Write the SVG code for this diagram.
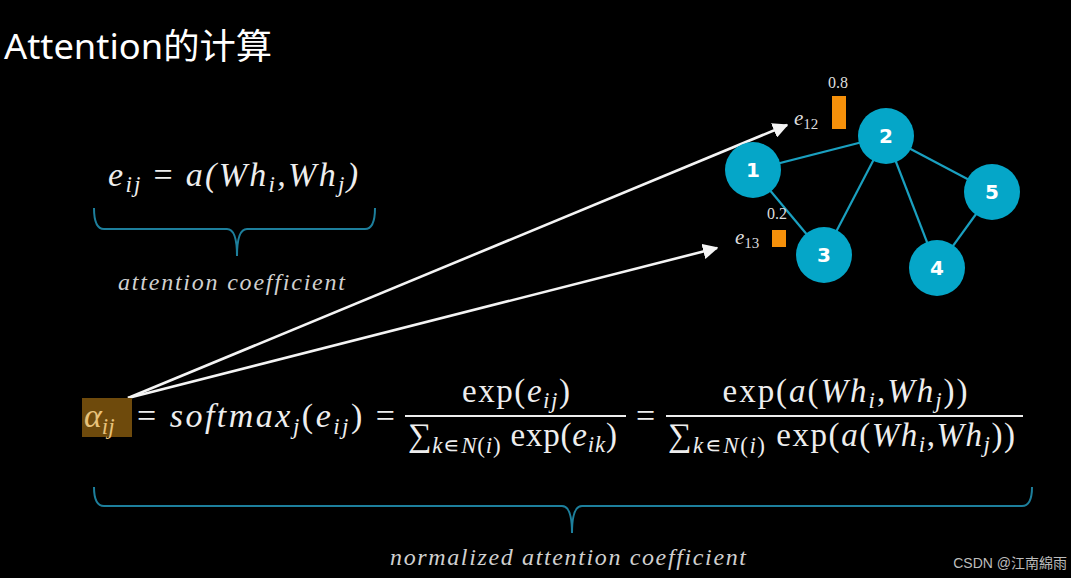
<svg xmlns="http://www.w3.org/2000/svg" width="1071" height="578" viewBox="0 0 1071 578">
<style>
.math{font-family:"Liberation Serif","DejaVu Serif",serif;fill:#eeeeee}
.it{font-style:italic}
.lbl{font-family:"Liberation Serif","DejaVu Serif",serif;font-style:italic;fill:#d0d0d0;font-size:24px}
.brace{fill:none;stroke:#1d7f9c;stroke-width:2}
.edge{stroke:#1aa0c0;stroke-width:2.2}
.node circle{fill:#05a6c8}
.node text{font-family:"DejaVu Sans","Liberation Sans",sans-serif;font-weight:bold;font-size:20px;fill:#ffffff;text-anchor:middle}
.arrow{stroke:#f4f4f4;stroke-width:2.6;fill:none}
.bar{fill:#f5900a}
.small{font-family:"Liberation Serif","DejaVu Serif",serif;fill:#dddddd}
</style>
<defs>
<marker id="ah" viewBox="0 0 10 10" refX="9" refY="5" markerWidth="6" markerHeight="6" orient="auto" markerUnits="strokeWidth">
<path d="M0,0 L10,5 L0,10 z" fill="#f4f4f4"/>
</marker>
</defs>
<rect x="0" y="0" width="1071" height="578" fill="#000000"/>

<text x="4" y="59" font-family="'Noto Sans','Noto Sans CJK SC',sans-serif" font-size="35" fill="#ffffff" textLength="268" lengthAdjust="spacingAndGlyphs">Attention的计算</text>

<g id="eq-e">
<text class="math it" x="108" y="186" font-size="34" textLength="250" lengthAdjust="spacing">e<tspan font-size="23" dy="6">ij</tspan><tspan dy="-6" font-style="normal"> = </tspan>a(Wh<tspan font-size="23" dy="6">i</tspan><tspan dy="-6">,</tspan>Wh<tspan font-size="23" dy="6">j</tspan><tspan dy="-6">)</tspan></text>
</g>

<g id="brace1">
<path class="brace" d="M94,208 Q94,229 104,229 L227,229 Q237,229 237,256 Q237,229 247,229 L365,229 Q375,229 375,208"/>
<text class="lbl" x="118" y="290" textLength="227" lengthAdjust="spacing">attention coefficient</text>
</g>

<g id="connectors">
<line class="edge" x1="753" y1="170" x2="886" y2="136"/>
<line class="edge" x1="753" y1="170" x2="824" y2="255"/>
<line class="edge" x1="886" y1="136" x2="824" y2="255"/>
<line class="edge" x1="886" y1="136" x2="937" y2="268"/>
<line class="edge" x1="886" y1="136" x2="992" y2="192"/>
<line class="edge" x1="992" y1="192" x2="937" y2="268"/>
<line class="arrow" x1="128" y1="398" x2="787" y2="125" marker-end="url(#ah)"/>
<line class="arrow" x1="128" y1="398" x2="717" y2="248" marker-end="url(#ah)"/>
</g>

<g id="node1" class="node"><circle cx="753" cy="170" r="28"/><text x="753" y="177">1</text></g>
<g id="node2" class="node"><circle cx="886" cy="136" r="28"/><text x="886" y="143">2</text></g>
<g id="node3" class="node"><circle cx="824" cy="255" r="28"/><text x="824" y="262">3</text></g>
<g id="node4" class="node"><circle cx="937" cy="268" r="28"/><text x="937" y="275">4</text></g>
<g id="node5" class="node"><circle cx="992" cy="192" r="28"/><text x="992" y="199">5</text></g>

<g id="e12">
<rect class="bar" x="832" y="96" width="14" height="33"/>
<text class="small" x="838" y="88" font-size="16" text-anchor="middle">0.8</text>
<text class="small it" x="794" y="125" font-size="21">e<tspan font-size="15" font-style="normal" dy="4">12</tspan></text>
</g>
<g id="e13">
<rect class="bar" x="772" y="230" width="14" height="17"/>
<text class="small" x="777" y="219" font-size="16" text-anchor="middle">0.2</text>
<text class="small it" x="735" y="244" font-size="21">e<tspan font-size="15" font-style="normal" dy="4">13</tspan></text>
</g>

<g id="eq-alpha">
<rect x="82" y="398" width="50" height="39" fill="#6e4a0c"/>
<text class="math it" x="84" y="427" font-size="34" style="fill:#e8c27a">α<tspan font-size="23" dy="7">ij</tspan></text>
<text class="math it" x="137" y="427" font-size="34" textLength="258" lengthAdjust="spacing"><tspan font-style="normal">= </tspan>softmax<tspan font-size="23" dy="7">j</tspan><tspan dy="-7" font-style="normal">(</tspan>e<tspan font-size="23" dy="7">ij</tspan><tspan dy="-7" font-style="normal">) =</tspan></text>
<text class="math" x="516" y="402" font-size="33" text-anchor="middle" textLength="108" lengthAdjust="spacing">exp(<tspan font-style="italic">e</tspan><tspan font-style="italic" font-size="23" dy="6">ij</tspan><tspan dy="-6">)</tspan></text>
<line x1="405" y1="416" x2="626" y2="416" stroke="#eeeeee" stroke-width="2"/>
<text class="math" x="408" y="446" font-size="33" textLength="209" lengthAdjust="spacing">∑<tspan font-style="italic" font-size="23" dy="7">k</tspan><tspan font-size="23">∊</tspan><tspan font-style="italic" font-size="23">N</tspan><tspan font-size="23">(</tspan><tspan font-style="italic" font-size="23">i</tspan><tspan font-size="23">)</tspan><tspan dy="-7"> exp(</tspan><tspan font-style="italic">e</tspan><tspan font-style="italic" font-size="23" dy="6">ik</tspan><tspan dy="-6">)</tspan></text>
<text class="math" x="636" y="427" font-size="34">=</text>
<text class="math" x="845" y="402" font-size="33" text-anchor="middle" textLength="245" lengthAdjust="spacing">exp(<tspan font-style="italic">a</tspan>(<tspan font-style="italic">Wh</tspan><tspan font-style="italic" font-size="23" dy="6">i</tspan><tspan dy="-6">,</tspan><tspan font-style="italic">Wh</tspan><tspan font-style="italic" font-size="23" dy="6">j</tspan><tspan dy="-6">))</tspan></text>
<line x1="666" y1="416" x2="1023" y2="416" stroke="#eeeeee" stroke-width="2"/>
<text class="math" x="668" y="446" font-size="33" textLength="347" lengthAdjust="spacing">∑<tspan font-style="italic" font-size="23" dy="7">k</tspan><tspan font-size="23">∊</tspan><tspan font-style="italic" font-size="23">N</tspan><tspan font-size="23">(</tspan><tspan font-style="italic" font-size="23">i</tspan><tspan font-size="23">)</tspan><tspan dy="-7"> exp(</tspan><tspan font-style="italic">a</tspan>(<tspan font-style="italic">Wh</tspan><tspan font-style="italic" font-size="23" dy="6">i</tspan><tspan dy="-6">,</tspan><tspan font-style="italic">Wh</tspan><tspan font-style="italic" font-size="23" dy="6">j</tspan><tspan dy="-6">))</tspan></text>
</g>

<g id="brace2">
<path class="brace" d="M94,487 Q94,506 104,506 L562,506 Q572,506 572,533 Q572,506 582,506 L1022,506 Q1032,506 1032,487"/>
<text class="lbl" x="390" y="565" textLength="356" lengthAdjust="spacing">normalized attention coefficient</text>
</g>

<text x="1067" y="568" text-anchor="end" font-family="'Liberation Sans','Noto Sans CJK SC',sans-serif" font-size="14" fill="#bdbdbd">CSDN @江南綿雨</text>
</svg>
